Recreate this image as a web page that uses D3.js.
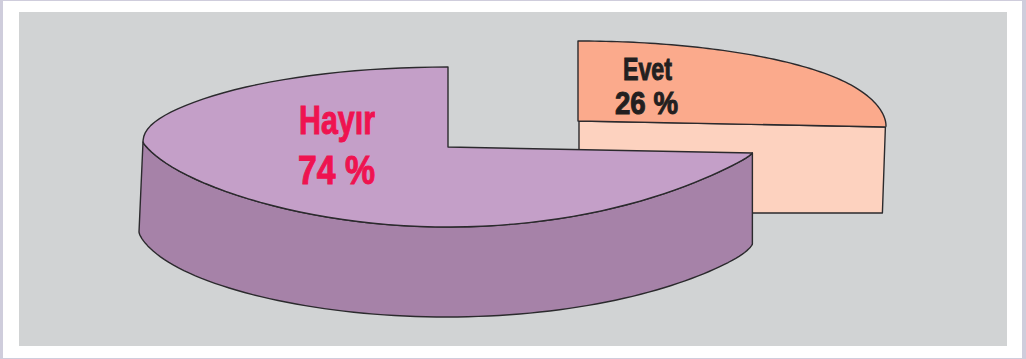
<!DOCTYPE html>
<html>
<head>
<meta charset="utf-8">
<script src="https://cdn.jsdelivr.net/npm/d3@7"></script>
<style>
html, body { margin: 0; padding: 0; background: #cfcddc; }
svg { display: block; }
text { font-family: "Liberation Sans Narrow", "Liberation Sans", sans-serif; font-weight: bold; }
</style>
</head>
<body>
<svg id="chart" width="1026" height="359"></svg>
<script>
var categories = ["Evet", "Hayır"];
var values = [26, 74];
var valueLabels = ["26 %", "74 %"];

var lineColor = "#2b2a2d";

var svg = d3.select("#chart");

// page frame and grey panel
svg.append("rect").attr("x", 3).attr("y", 1).attr("width", 1019).attr("height", 357).attr("fill", "#fff");
svg.append("rect").attr("x", 19).attr("y", 12).attr("width", 988).attr("height", 334).attr("fill", "#d1d3d4");

// each slice is pulled apart, so it has its own centre
var cfg = {
  Evet:  { cx: 578, cy: 121, rx: 308, ry: 80, botCx: 578, botRx: 305, botCy: 208, top: "#fbaa8c", side: "#fdd2bf" },
  "Hayır": { cx: 448, cy: 147, rx: 305, ry: 80, botCx: 446, botRx: 307, botCy: 237, top: "#c49fc8", side: "#a682a8" }
};

var pie = d3.pie().sort(null).startAngle(0).endAngle(2 * Math.PI);
var slices = pie(values);
slices.forEach(function(s, i) { s.name = categories[i]; });

// front half of the disc is flatter than a true ellipse in the drawing,
// and the whole disc leans a few px down to the right
function pt(c, a, bottom) {
  var x = bottom ? c.botCx : c.cx, y = bottom ? c.botCy : c.cy, r = bottom ? c.botRx : c.rx;
  var k = Math.cos(a);
  var dy = k >= 0 ? k : -Math.pow(-k, bottom ? 1.3 : 1.55);
  return [x + r * Math.sin(a), y - c.ry * dy + 5 * Math.pow(Math.sin(a), 13)];
}

function sweep(a0, a1) {
  return d3.range(0, 91).map(function(k) { return a0 + (a1 - a0) * k / 90; });
}

var line = d3.line();

function styled(sel, fill) {
  return sel.attr("fill", fill)
    .attr("stroke", lineColor)
    .attr("stroke-width", 1.4)
    .attr("stroke-linejoin", "round");
}

function topFace(s, c) {
  var rim = sweep(s.startAngle, s.endAngle).map(function(a) { return pt(c, a, false); });
  styled(svg.append("path").attr("d", line([[c.cx, c.cy]].concat(rim)) + "Z"), c.top);
}

// Evet first, Hayır sits in front of it
var evet = slices[0], hayir = slices[1];
var ce = cfg[evet.name], ch = cfg[hayir.name];

// cut face of Evet
var endTop = pt(ce, evet.endAngle, false), endBot = pt(ce, evet.endAngle, true);
styled(svg.append("path").attr("d", line([
  [ce.cx + 1, ce.cy], endTop, [endBot[0], ce.botCy + 5], [ce.cx + 1, ce.botCy + 5]
]) + "Z"), ce.side);

topFace(evet, ce);

// outer wall of Hayır, from its start round to the leftmost point
var angles = sweep(hayir.startAngle, 1.5 * Math.PI);
var wall = angles.map(function(a) { return pt(ch, a, false); })
  .concat(angles.slice().reverse().map(function(a) { return pt(ch, a, true); }));
styled(svg.append("path").attr("d", line(wall) + "Z"), ch.side);

topFace(hayir, ch);

// labels
function label(txt, x, y, size, w, color) {
  svg.append("text")
    .attr("x", x).attr("y", y)
    .attr("font-size", size)
    .attr("textLength", w)
    .attr("lengthAdjust", "spacingAndGlyphs")
    .attr("fill", color)
    .attr("stroke", color)
    .attr("stroke-width", 1)
    .text(txt);
}
label(categories[0], 623, 80, 32, 49, "#231f20");
label(valueLabels[0], 615, 114, 32, 63, "#231f20");
label(categories[1], 299, 134, 40, 76, "#ef1350");
label(valueLabels[1], 298, 184, 40, 77, "#ef1350");
</script>
</body>
</html>
